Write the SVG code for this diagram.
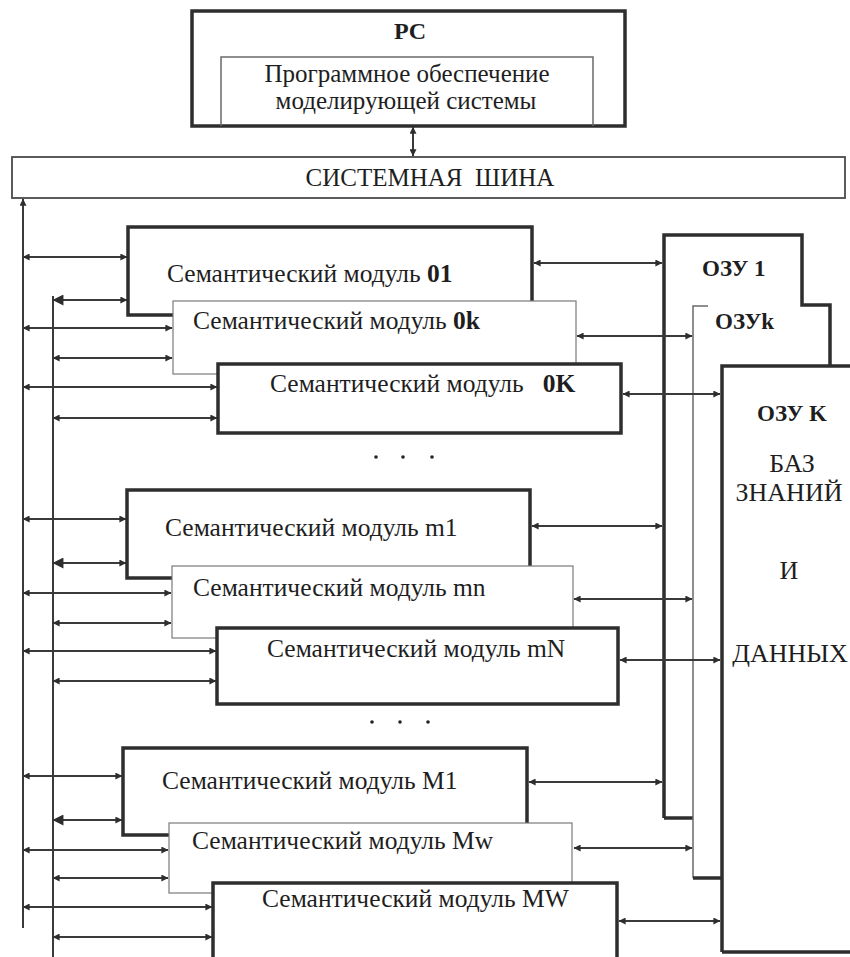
<svg xmlns="http://www.w3.org/2000/svg" width="850" height="957" viewBox="0 0 850 957">
<style>
  .bg { fill: #ffffff; }
  .thick { fill: #ffffff; stroke: #2e2e2e; stroke-width: 3.5; }
  .thin { fill: #ffffff; stroke: #7a7a7a; stroke-width: 1.2; }
  .line { fill: none; stroke: #2e2e2e; stroke-width: 3.5; }
  .tline { fill: none; stroke: #6a6a6a; stroke-width: 1.5; }
  .conn { fill: none; stroke: #3a3a3a; stroke-width: 2; }
  .bus { fill: #ffffff; stroke: #4a4a4a; stroke-width: 1.8; }
  text { font-family: "Liberation Serif", "Times New Roman", serif; fill: #1e1e1e; }
  .lbl { font-size: 25.5px; }
  .b { font-weight: bold; }
  .mem { font-size: 23px; font-weight: bold; }
  .kb { font-size: 26px; text-anchor: middle; }
  .dot { fill: #222; }
</style>
<defs>
  <marker id="ah" viewBox="0 0 10 10" refX="9.5" refY="5" markerWidth="9" markerHeight="7" markerUnits="userSpaceOnUse" orient="auto-start-reverse">
    <path d="M0,0 L10,5 L0,10 z" fill="#2e2e2e"/>
  </marker>
  <marker id="ahb" viewBox="0 0 10 10" refX="9.5" refY="5" markerWidth="14" markerHeight="11" markerUnits="userSpaceOnUse" orient="auto-start-reverse">
    <path d="M0,0 L10,5 L0,10 z" fill="#2e2e2e"/>
  </marker>
</defs>
<rect class="bg" x="0" y="0" width="850" height="957"/>

<g id="pc">
  <rect class="thick" x="192" y="11" width="433" height="115"/>
  <path class="tline" d="M221,126 V57 H593 V126"/>
  <text x="410" y="39" font-size="24" class="b" text-anchor="middle">PC</text>
  <text x="407" y="82" font-size="25" text-anchor="middle">Программное обеспечение</text>
  <text x="406" y="109" font-size="25" text-anchor="middle">моделирующей системы</text>
</g>

<g id="bus">
  <rect class="bus" x="12" y="157" width="833" height="41"/>
  <text x="430" y="186" font-size="25" text-anchor="middle" xml:space="preserve">СИСТЕМНАЯ  ШИНА</text>
</g>

<g id="mem1">
  <path class="line" d="M664,818 V235 H802 V305 H830 V366"/>
  <path class="line" d="M664,818 H693"/>
  <text x="702" y="276" class="mem">ОЗУ 1</text>
</g>
<g id="memk">
  <path class="tline" d="M708,306 H693 V878"/>
  <path class="line" d="M693,878 H722"/>
  <text x="715" y="329" class="mem">ОЗУk</text>
</g>
<g id="memK">
  <path class="line" d="M722,952 V366 H852"/>
  <path class="line" d="M722,952 H852"/>
  <text x="757" y="421" class="mem">ОЗУ K</text>
  <text x="792" y="472" class="kb">БАЗ</text>
  <text x="789" y="501" class="kb">ЗНАНИЙ</text>
  <text x="789" y="579" class="kb">И</text>
  <text x="790" y="662" class="kb">ДАННЫХ</text>
</g>

<g id="m01">
  <rect class="thick" x="128" y="227" width="404" height="88"/>
  <text x="167" y="282" class="lbl">Семантический модуль  <tspan class="b">01</tspan></text>
</g>
<g id="m0k">
  <rect class="thin" x="173" y="301" width="403" height="73"/>
  <text x="193" y="329" class="lbl">Семантический модуль  <tspan class="b">0k</tspan></text>
</g>
<g id="m0K">
  <rect class="thick" x="218" y="364" width="403" height="69"/>
  <text x="270" y="392" class="lbl" xml:space="preserve">Семантический модуль   <tspan class="b">0K</tspan></text>
</g>

<g id="dots1">
  <circle class="dot" cx="376" cy="457" r="1.8"/>
  <circle class="dot" cx="403" cy="457" r="1.8"/>
  <circle class="dot" cx="432" cy="457" r="1.8"/>
</g>

<g id="mm1">
  <rect class="thick" x="127" y="490" width="403" height="88"/>
  <text x="165" y="536" class="lbl">Семантический модуль  m1</text>
</g>
<g id="mmn">
  <rect class="thin" x="172" y="566" width="401" height="72"/>
  <text x="193" y="596" class="lbl">Семантический модуль  mn</text>
</g>
<g id="mmN">
  <rect class="thick" x="217" y="628" width="401" height="76"/>
  <text x="267" y="657" class="lbl">Семантический модуль  mN</text>
</g>

<g id="dots2">
  <circle class="dot" cx="372" cy="722" r="1.8"/>
  <circle class="dot" cx="400" cy="722" r="1.8"/>
  <circle class="dot" cx="428" cy="722" r="1.8"/>
</g>

<g id="mM1">
  <rect class="thick" x="123" y="748" width="404" height="87"/>
  <text x="162" y="789" class="lbl">Семантический модуль M1</text>
</g>
<g id="mMw">
  <rect class="thin" x="169" y="823" width="403" height="70"/>
  <text x="192" y="849" class="lbl">Семантический модуль  Mw</text>
</g>
<g id="mMW">
  <rect class="thick" x="213" y="883" width="404" height="80"/>
  <text x="262" y="907" class="lbl">Семантический модуль  MW</text>
</g>

<g id="connectors">
  <line class="conn" x1="413" y1="127" x2="413" y2="156" marker-start="url(#ah)" marker-end="url(#ah)"/>
  <line class="conn" x1="23" y1="928" x2="23" y2="199" marker-end="url(#ah)"/>
  <line class="conn" x1="53" y1="296" x2="53" y2="957"/>
  <line class="conn" x1="23" y1="257" x2="127" y2="257" marker-start="url(#ah)" marker-end="url(#ah)"/>
  <line class="conn" x1="53" y1="300" x2="127" y2="300" marker-start="url(#ahb)" marker-end="url(#ah)"/>
  <line class="conn" x1="23" y1="328" x2="172" y2="328" marker-start="url(#ah)" marker-end="url(#ah)"/>
  <line class="conn" x1="53" y1="358" x2="172" y2="358" marker-start="url(#ah)" marker-end="url(#ah)"/>
  <line class="conn" x1="23" y1="387" x2="217" y2="387" marker-start="url(#ah)" marker-end="url(#ah)"/>
  <line class="conn" x1="53" y1="418" x2="217" y2="418" marker-start="url(#ah)" marker-end="url(#ah)"/>
  <line class="conn" x1="23" y1="519" x2="126" y2="519" marker-start="url(#ah)" marker-end="url(#ah)"/>
  <line class="conn" x1="53" y1="563" x2="126" y2="563" marker-start="url(#ahb)" marker-end="url(#ah)"/>
  <line class="conn" x1="23" y1="593" x2="171" y2="593" marker-start="url(#ah)" marker-end="url(#ah)"/>
  <line class="conn" x1="53" y1="623" x2="171" y2="623" marker-start="url(#ah)" marker-end="url(#ah)"/>
  <line class="conn" x1="23" y1="651" x2="216" y2="651" marker-start="url(#ah)" marker-end="url(#ah)"/>
  <line class="conn" x1="53" y1="681" x2="216" y2="681" marker-start="url(#ah)" marker-end="url(#ah)"/>
  <line class="conn" x1="23" y1="776" x2="122" y2="776" marker-start="url(#ah)" marker-end="url(#ah)"/>
  <line class="conn" x1="53" y1="820" x2="122" y2="820" marker-start="url(#ahb)" marker-end="url(#ah)"/>
  <line class="conn" x1="23" y1="850" x2="168" y2="850" marker-start="url(#ah)" marker-end="url(#ah)"/>
  <line class="conn" x1="53" y1="878" x2="168" y2="878" marker-start="url(#ah)" marker-end="url(#ah)"/>
  <line class="conn" x1="23" y1="907" x2="212" y2="907" marker-start="url(#ah)" marker-end="url(#ah)"/>
  <line class="conn" x1="53" y1="937" x2="212" y2="937" marker-start="url(#ah)" marker-end="url(#ah)"/>
  <line class="conn" x1="534" y1="263" x2="662" y2="263" marker-start="url(#ah)" marker-end="url(#ah)"/>
  <line class="conn" x1="577" y1="336" x2="692" y2="336" marker-start="url(#ah)" marker-end="url(#ah)"/>
  <line class="conn" x1="623" y1="394" x2="720" y2="394" marker-start="url(#ah)" marker-end="url(#ah)"/>
  <line class="conn" x1="532" y1="526" x2="662" y2="526" marker-start="url(#ah)" marker-end="url(#ah)"/>
  <line class="conn" x1="574" y1="599" x2="692" y2="599" marker-start="url(#ah)" marker-end="url(#ah)"/>
  <line class="conn" x1="620" y1="660" x2="720" y2="660" marker-start="url(#ah)" marker-end="url(#ah)"/>
  <line class="conn" x1="529" y1="782" x2="662" y2="782" marker-start="url(#ah)" marker-end="url(#ah)"/>
  <line class="conn" x1="574" y1="848" x2="692" y2="848" marker-start="url(#ah)" marker-end="url(#ah)"/>
  <line class="conn" x1="619" y1="921" x2="720" y2="921" marker-start="url(#ah)" marker-end="url(#ah)"/>
</g>
</svg>
